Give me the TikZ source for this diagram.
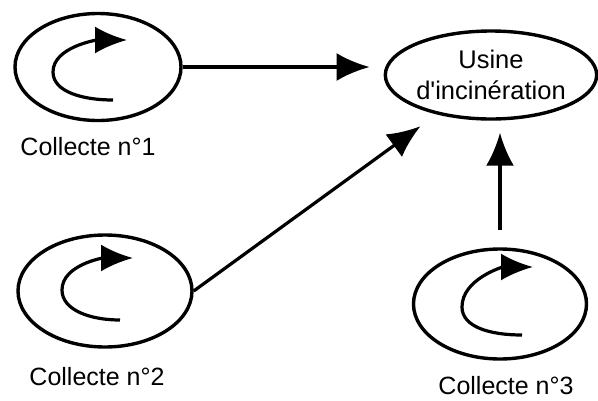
\documentclass[tikz,border=0pt]{standalone}
\usepackage{fontspec}
\setmainfont{Liberation Sans}[Ligatures=TeXOff]
\usetikzlibrary{shapes.geometric,arrows.meta}

\begin{document}
\begin{tikzpicture}
	[   x=1pt,y=-1pt,
		enode/.style 2 args={draw=black,ellipse,line width=3.4pt,inner sep=0pt,
			minimum width=#1pt,minimum height=#2pt,align=center,
			font=\fontsize{25.5}{31}\selectfont},
		txt/.style={inner sep=0pt,font=\fontsize{25}{31}\selectfont},
	]
	\tikzset{loop arrow/.style={draw,line width=3.2pt,-{Latex[length=32pt,width=27pt]}}}
	\tikzset{main arrow/.style={draw,line width=3.2pt,-{Latex[length=33pt,width=28pt]}}}
	\useasboundingbox (0,0) rectangle (598,400);

	\node[enode={206}{88}] (usine) at (491,75) {Usine\\d'incinération};

	\node[enode={166}{107}] (c1) at (98,67) {};
	\node[enode={174}{112}] (c2) at (105,291) {};
	\node[enode={173}{110}] (c3) at (500,304) {};

	\node[txt] (l1) at (88,147) {Collecte n°1};
	\node[txt] (l2) at (97,377) {Collecte n°2};
	\node[txt] (l3) at (506,386) {Collecte n°3};

	% boucles de collecte
	\path[loop arrow] ([shift={(15,33)}]c1.center) .. controls +(-30,0) and +(0,20) .. ([shift={(-45,5)}]c1.center)
		.. controls +(0,-25) and +(-30,0) .. ([shift={(29,-27)}]c1.center);
	\path[loop arrow] ([shift={(15,29)}]c2.center) .. controls +(-30,0) and +(0,20) .. ([shift={(-43,-1)}]c2.center)
		.. controls +(0,-25) and +(-30,0) .. ([shift={(28,-33)}]c2.center);
	\path[loop arrow] ([shift={(22,31)}]c3.center) .. controls +(-32,0) and +(0,20) .. ([shift={(-38,3)}]c3.center)
		.. controls +(0,-28) and +(-30,0) .. ([shift={(33,-37)}]c3.center);

	% vers l'usine
	\path[main arrow,shorten >=14pt] (c1.east) -- (c1.east -| usine.west);
	\path[main arrow,shorten >=20pt] (c2.east) -- (usine);
	\path[main arrow,shorten <=17pt,shorten >=12pt] (c3.north) -- (c3.north |- usine.south);
\end{tikzpicture}
\end{document}
